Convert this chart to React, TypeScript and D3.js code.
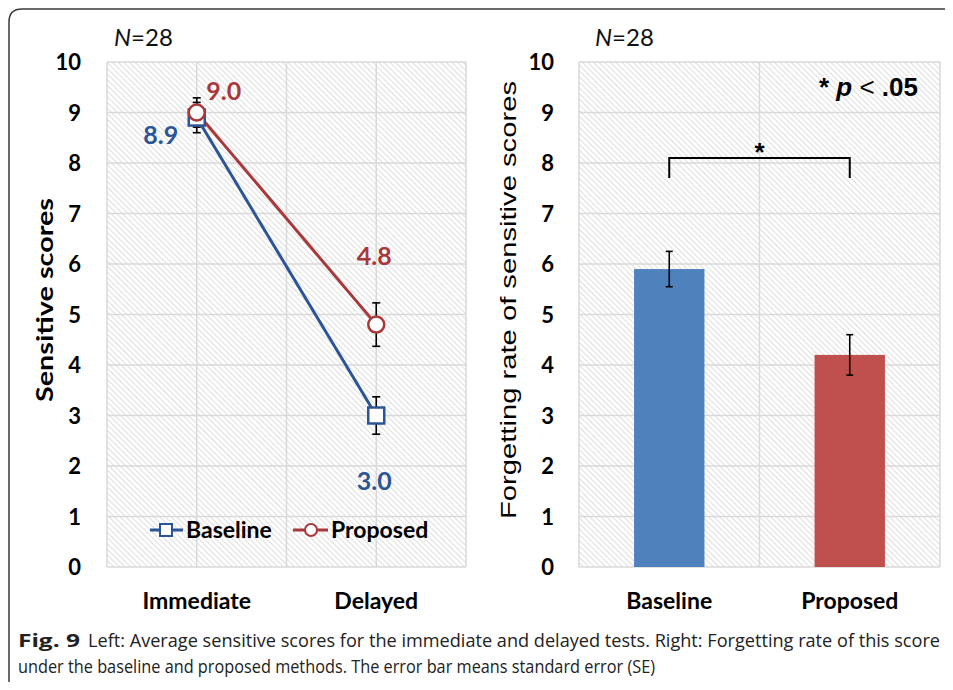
import * as d3 from "d3";

const W = 953;
const H = 690;

// left chart
const tests = ["Immediate", "Delayed"];
const baselineScores = [8.9, 3.0];
const baselineSE = [0.3, 0.37];
const proposedScores = [9.0, 4.8];
const proposedSE = [0.29, 0.43];

// right chart
const methods = ["Baseline", "Proposed"];
const forgetRates = [5.9, 4.2];
const forgetSE = [0.35, 0.4];

const yTicks = d3.range(0, 11);

const BLUE = "#2c5597";
const RED = "#a8393a";
const BAR_COLORS = ["#4f81bd", "#c0504d"];
const GRID = "#d9d9d9";
const LABEL_FONT = "Lato, 'Open Sans', sans-serif";
const ARIAL = "'Liberation Sans', Arial, sans-serif";

const PLOT_TOP = 62;
const PLOT_BOTTOM = 567;

export default function App() {
  const y = d3.scaleLinear().domain([0, 10]).range([PLOT_BOTTOM, PLOT_TOP]);

  const xL = d3.scaleBand().domain(tests).range([107, 466]);
  const xR = d3.scaleBand().domain(methods).range([579, 940]);
  const barW = xR.bandwidth() * 0.39;

  const cx = (d: string) => (xL(d) ?? 0) + xL.bandwidth() / 2;
  const cr = (d: string) => (xR(d) ?? 0) + xR.bandwidth() / 2;
  const line = d3.line<number>().x((_, i) => cx(tests[i])).y((v) => y(v));

  const leftVerticals = [
    ...tests.map((t) => xL(t) ?? 0),
    ...tests.map((t) => cx(t)),
    (xL(tests[1]) ?? 0) + xL.bandwidth(),
  ];
  const rightVerticals = [...methods.map((m) => xR(m) ?? 0), (xR(methods[1]) ?? 0) + xR.bandwidth()];

  const errBar = (x: number, v: number, se: number, cap: number, key: string) => (
    <g key={key} stroke="#000" strokeWidth={1.6}>
      <line x1={x} x2={x} y1={y(v + se)} y2={y(v - se)} />
      <line x1={x - cap} x2={x + cap} y1={y(v + se)} y2={y(v + se)} />
      <line x1={x - cap} x2={x + cap} y1={y(v - se)} y2={y(v - se)} />
    </g>
  );

  const grid = (x0: number, x1: number, verticals: number[], key: string) => (
    <g key={key}>
      <rect x={x0} y={PLOT_TOP} width={x1 - x0} height={PLOT_BOTTOM - PLOT_TOP} fill="url(#hatch)" />
      {yTicks.map((t) => (
        <line key={t} x1={x0} x2={x1} y1={y(t)} y2={y(t)} stroke={GRID} strokeWidth={1.5} />
      ))}
      {verticals.map((v, i) => (
        <line key={"v" + i} x1={v} x2={v} y1={PLOT_TOP} y2={PLOT_BOTTOM} stroke={GRID} strokeWidth={1.5} />
      ))}
    </g>
  );

  // value label offsets relative to the marker
  const labelPos = [
    { s: "b", i: 0, dx: -36, dy: 26 },
    { s: "p", i: 0, dx: 27, dy: -13 },
    { s: "p", i: 1, dx: -2, dy: -60 },
    { s: "b", i: 1, dx: -2, dy: 74 },
  ];

  const c0 = cr(methods[0]);
  const c1 = cr(methods[1]);

  return (
    <svg width={W} height={H} style={{ display: "block", margin: -8 }} viewBox={`0 0 ${W} ${H}`}>
      <defs>
        <pattern id="hatch" width="4" height="4" patternUnits="userSpaceOnUse" patternTransform="rotate(45)">
          <rect width="4" height="4" fill="#fff" />
          <line x1="0" y1="0" x2="4" y2="0" stroke="#d0d0d0" strokeWidth="1.4" />
        </pattern>
      </defs>
      <rect width={W} height={H} fill="#fff" />
      <path d="M9,700 L9,22 Q9,9 22,9 L960,9" fill="none" stroke="#3a3a3a" strokeWidth={1.5} />

      {/* left plot */}
      {grid(107, 466, leftVerticals, "gl")}
      <text x={114} y={46} fontFamily={LABEL_FONT} fontSize={24} fill="#111">
        <tspan fontStyle="italic">N</tspan>=28
      </text>
      {yTicks.map((t) => (
        <text key={t} x={81} y={y(t) + 8} textAnchor="end" fontFamily={LABEL_FONT} fontWeight={700} fontSize={22}>
          {t}
        </text>
      ))}
      <text
        transform="translate(53,300) rotate(-90)"
        textAnchor="middle"
        fontFamily={LABEL_FONT}
        fontWeight={700}
        fontSize={23}
        textLength={204}
        lengthAdjust="spacingAndGlyphs"
      >
        Sensitive scores
      </text>
      {tests.map((t) => (
        <text key={t} x={cx(t)} y={609} textAnchor="middle" fontFamily={LABEL_FONT} fontWeight={700} fontSize={23}>
          {t}
        </text>
      ))}
      {tests.map((t, i) => errBar(cx(t), proposedScores[i], proposedSE[i], 4, "pe" + i))}
      {tests.map((t, i) => errBar(cx(t), baselineScores[i], baselineSE[i], 4, "be" + i))}
      <path d={line(baselineScores) ?? ""} fill="none" stroke={BLUE} strokeWidth={3} />
      <path d={line(proposedScores) ?? ""} fill="none" stroke={RED} strokeWidth={3} />
      {tests.map((t, i) => (
        <rect
          key={"bm" + i}
          x={cx(t) - 8}
          y={y(baselineScores[i]) - 8}
          width={16}
          height={16}
          fill="#fff"
          stroke={BLUE}
          strokeWidth={2.5}
        />
      ))}
      {tests.map((t, i) => (
        <circle key={"pm" + i} cx={cx(t)} cy={y(proposedScores[i])} r={8} fill="#fff" stroke={RED} strokeWidth={2.5} />
      ))}
      {labelPos.map((l, k) => {
        const vals = l.s === "b" ? baselineScores : proposedScores;
        return (
          <text
            key={"lab" + k}
            x={cx(tests[l.i]) + l.dx}
            y={y(vals[l.i]) + l.dy}
            textAnchor="middle"
            fontFamily={LABEL_FONT}
            fontWeight={700}
            fontSize={25}
            fill={l.s === "b" ? BLUE : RED}
          >
            {vals[l.i].toFixed(1)}
          </text>
        );
      })}
      {/* legend */}
      <g>
        <line x1={150} x2={183} y1={530} y2={530} stroke={BLUE} strokeWidth={3} />
        <rect x={160} y={524} width={12} height={12} fill="#fff" stroke={BLUE} strokeWidth={2} />
        <text x={186} y={538} fontFamily={LABEL_FONT} fontWeight={700} fontSize={23}>
          Baseline
        </text>
        <line x1={293} x2={328} y1={530} y2={530} stroke={RED} strokeWidth={3} />
        <circle cx={311} cy={530} r={6} fill="#fff" stroke={RED} strokeWidth={2} />
        <text x={331} y={538} fontFamily={LABEL_FONT} fontWeight={700} fontSize={23}>
          Proposed
        </text>
      </g>

      {/* right plot */}
      {grid(579, 940, rightVerticals, "gr")}
      <text x={595} y={46} fontFamily={LABEL_FONT} fontSize={24} fill="#111">
        <tspan fontStyle="italic">N</tspan>=28
      </text>
      {yTicks.map((t) => (
        <text key={t} x={554} y={y(t) + 8} textAnchor="end" fontFamily={LABEL_FONT} fontWeight={700} fontSize={22}>
          {t}
        </text>
      ))}
      <text
        transform="translate(516,300) rotate(-90)"
        textAnchor="middle"
        fontFamily={ARIAL}
        fontSize={22}
        textLength={438}
        lengthAdjust="spacingAndGlyphs"
      >
        Forgetting rate of sensitive scores
      </text>
      {methods.map((m, i) => (
        <g key={m}>
          <rect
            x={cr(m) - barW / 2}
            y={y(forgetRates[i])}
            width={barW}
            height={y(0) - y(forgetRates[i])}
            fill={BAR_COLORS[i]}
          />
          {errBar(cr(m), forgetRates[i], forgetSE[i], 3.5, "re" + i)}
          <text x={cr(m)} y={609} textAnchor="middle" fontFamily={LABEL_FONT} fontWeight={700} fontSize={23}>
            {m}
          </text>
        </g>
      ))}
      <path d={`M${c0},178 L${c0},158 L${c1},158 L${c1},178`} fill="none" stroke="#000" strokeWidth={2} />
      <text x={(c0 + c1) / 2} y={161} textAnchor="middle" fontFamily={ARIAL} fontWeight={700} fontSize={26}>
        *
      </text>
      <text x={918} y={96} textAnchor="end" fontFamily={ARIAL} fontWeight={700} fontSize={26}>
        *{"  "}
        <tspan fontStyle="italic">p</tspan>
        <tspan fontWeight={400}> &lt; </tspan>.05
      </text>

      {/* caption */}
      <text x={18} y={647} fontFamily="'Open Sans', sans-serif" fontSize={18} fill="#222" fontWeight={700} textLength={62} lengthAdjust="spacingAndGlyphs">
        Fig. 9
      </text>
      <text x={88} y={647} fontFamily="'Open Sans', sans-serif" fontSize={18} fill="#222" textLength={852} lengthAdjust="spacingAndGlyphs">
        Left: Average sensitive scores for the immediate and delayed tests. Right: Forgetting rate of this score
      </text>
      <text x={18} y={673} fontFamily="'Open Sans', sans-serif" fontSize={18} fill="#222" textLength={637} lengthAdjust="spacingAndGlyphs">
        under the baseline and proposed methods. The error bar means standard error (SE)
      </text>
    </svg>
  );
}
